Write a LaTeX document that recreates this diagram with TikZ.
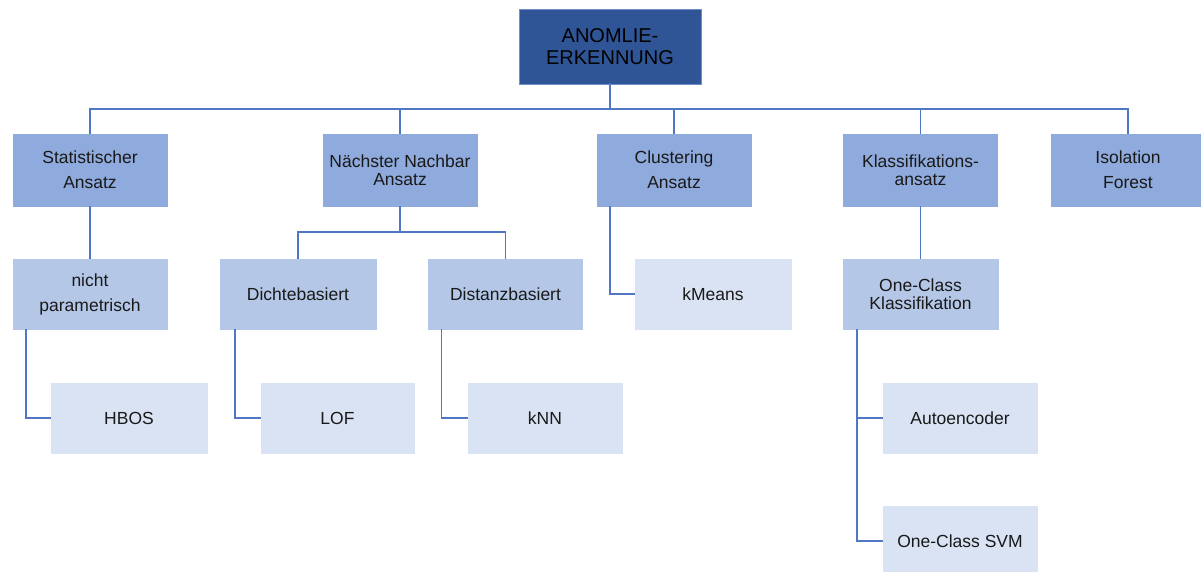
\documentclass[tikz,border=0pt]{standalone}
\usepackage{fontspec}
\setmainfont{Liberation Sans}
\definecolor{rootfill}{RGB}{47,85,151}
\definecolor{lonefill}{RGB}{143,170,220}
\definecolor{ltwofill}{RGB}{180,199,231}
\definecolor{lthreefill}{RGB}{218,227,243}
\definecolor{linkcol}{RGB}{79,119,196}
\definecolor{txt}{RGB}{25,25,25}
\begin{document}
\begin{tikzpicture}[x=1pt,y=-1pt,
  box/.style={rectangle,draw=white,line width=0.8pt,inner sep=0pt,outer sep=0pt,
    align=center,text=txt,minimum width=156pt,minimum height=72pt},
  loose/.style={font=\fontsize{17.5}{25}\selectfont},
  tight/.style={font=\fontsize{17.5}{18.5}\selectfont},
  rootbox/.style={box,fill=rootfill,draw=lonefill!70!rootfill,text=black,
    minimum width=182pt,minimum height=75pt,font=\fontsize{20}{21.5}\selectfont},
  lone/.style={box,fill=lonefill,minimum height=74pt},
  ltwo/.style={box,fill=ltwofill},
  lthree/.style={box,fill=lthreefill},
  link/.style={draw=linkcol,line width=1.8pt,line cap=rect}]
\useasboundingbox (0,0) rectangle (1201,572);
\fill[white] (0,0) rectangle (1201,572);

% root
\node[rootbox] (root) at (610,46.5) {ANOMLIE-\\ERKENNUNG};

% first level
\node[lone,loose] (stat)  at (90,170)   {Statistischer\\Ansatz};
\node[lone,tight] (nn)    at (400,170)  {Nächster Nachbar\\Ansatz};
\node[lone,loose] (clust) at (674,170)  {Clustering\\Ansatz};
\node[lone,tight] (klass) at (920.5,170){Klassifikations-\\ansatz};
\node[lone,loose] (iso)   at (1128,170) {Isolation\\Forest};

% second level
\node[ltwo,loose] (nonpar) at (90,294)    {nicht\\parametrisch};
\node[ltwo,loose,minimum width=158pt] (dicht) at (298,294) {Dichtebasiert};
\node[ltwo,loose] (dist)   at (505.5,294) {Distanzbasiert};
\node[lthree,loose,minimum width=158pt] (kmeans) at (713,294) {kMeans};
\node[ltwo,tight,minimum width=157pt] (oneclass) at (920.5,294) {One-Class\\Klassifikation};

% third level
\node[lthree,loose,minimum width=158pt] (hbos) at (129,418)  {HBOS};
\node[lthree,loose,minimum width=155pt] (lof)  at (337.5,418){LOF};
\node[lthree,loose] (knn)  at (545,418)   {kNN};
\node[lthree,loose] (auto) at (960,418)   {Autoencoder};
\node[lthree,loose] (svm)  at (960,541)   {One-Class SVM};

% connectors
\coordinate (bus) at (0,109);
\coordinate (sub) at (0,232);
\draw[link] (root.south) -- (root.south |- bus);
\draw[link] (stat.north) -- (stat.north |- bus) -- (iso.north |- bus) -- (iso.north);
\draw[link] (nn.north) -- (nn.north |- bus);
\draw[link] (clust.north) -- (clust.north |- bus);
\draw[link] (klass.north) -- (klass.north |- bus);

\draw[link] (stat.south) -- (nonpar.north);
\draw[link] (nn.south) -- (nn.south |- sub);
\draw[link] (dicht.north) -- (dicht.north |- sub) -- (dist.north |- sub) -- (dist.north);
\draw[link] ([xshift=14pt]clust.south west) |- (kmeans.west);
\draw[link] (klass.south) -- (oneclass.north);

\draw[link] ([xshift=14pt]nonpar.south west) |- (hbos.west);
\draw[link] ([xshift=16pt]dicht.south west) |- (lof.west);
\draw[link] ([xshift=14pt]dist.south west) |- (knn.west);
\draw[link] ([xshift=15pt]oneclass.south west) |- (svm.west);
\draw[link] ([xshift=15pt]oneclass.south west |- auto.west) -- (auto.west);
\end{tikzpicture}
\end{document}
